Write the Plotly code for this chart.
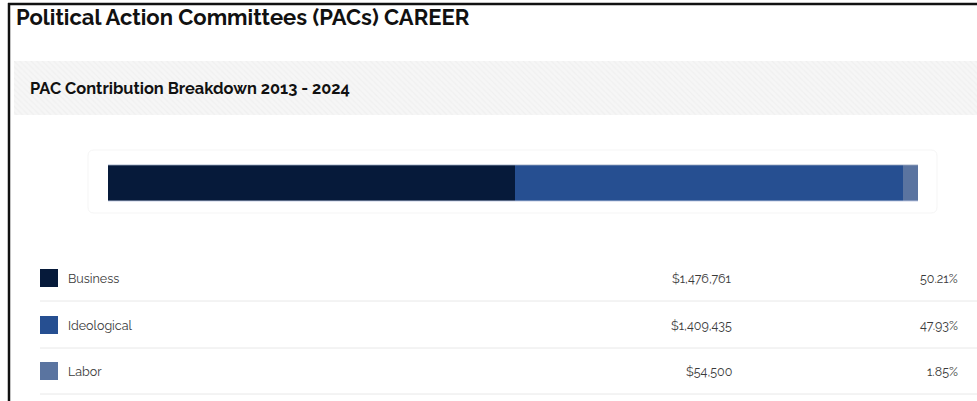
import plotly.graph_objects as go

categories = ["Business", "Ideological", "Labor"]
amounts = [1476761, 1409435, 54500]
amount_labels = ["$1,476,761", "$1,409,435", "$54,500"]
pct_labels = ["50.21%", "47.93%", "1.85%"]
colors = ["#061A3A", "#264F91", "#5A74A0"]

W, H = 977, 401
def px(x):
    return x / W
def py(y):
    return 1 - y / H

fig = go.Figure()
# hatched subtitle band
fig.add_trace(go.Bar(
    x=[1], y=[0], orientation="h", width=1, xaxis="x2", yaxis="y2",
    marker=dict(color="#f4f4f4", line=dict(width=0),
                pattern=dict(shape="\\", fgcolor="#e9e9e9", bgcolor="#f6f6f6", size=4, solidity=0.3)),
    hoverinfo="skip", showlegend=False,
))
for cat, val, col in zip(categories, amounts, colors):
    fig.add_trace(go.Bar(
        x=[val], y=[0], orientation="h", name=cat, width=1,
        marker=dict(color=col, line=dict(width=0)),
        hoverinfo="name+x", showlegend=False,
    ))

total = sum(amounts)
shapes = []
annotations = []

# borders
shapes.append(dict(type="line", xref="paper", yref="paper", x0=px(8), x1=1, y0=py(4), y1=py(4),
                   line=dict(color="#111", width=2.5)))
shapes.append(dict(type="line", xref="paper", yref="paper", x0=px(9), x1=px(9), y0=py(3), y1=0,
                   line=dict(color="#111", width=2.5)))
# faint rounded card around bar
shapes.append(dict(type="path", xref="paper", yref="paper",
                   path=f"M {px(94)},{py(150)} L {px(931)},{py(150)} Q {px(937)},{py(150)} {px(937)},{py(156)} "
                        f"L {px(937)},{py(207)} Q {px(937)},{py(213)} {px(931)},{py(213)} "
                        f"L {px(94)},{py(213)} Q {px(88)},{py(213)} {px(88)},{py(207)} "
                        f"L {px(88)},{py(156)} Q {px(88)},{py(150)} {px(94)},{py(150)} Z",
                   line=dict(color="#f5f5f5", width=1), fillcolor="rgba(0,0,0,0)", layer="below"))
# subtle light edges on bar
shapes.append(dict(type="line", xref="paper", yref="paper", x0=px(108), x1=px(918), y0=py(165), y1=py(165),
                   line=dict(color="rgba(150,165,190,0.8)", width=1)))
shapes.append(dict(type="line", xref="paper", yref="paper", x0=px(108), x1=px(918), y0=py(201), y1=py(201),
                   line=dict(color="rgba(190,200,225,0.9)", width=1)))

row_y = [278, 325, 371]
sep_y = [301, 348, 394]
font_row = dict(family="Raleway, Lato, sans-serif", size=12.5, color="#3a3a3a")
for i, (cat, col) in enumerate(zip(categories, colors)):
    cy = row_y[i]
    shapes.append(dict(type="rect", xref="paper", yref="paper", x0=px(40), x1=px(58),
                       y0=py(cy + 9), y1=py(cy - 9), fillcolor=col, line=dict(width=0)))
    shapes.append(dict(type="line", xref="paper", yref="paper", x0=px(40), x1=1,
                       y0=py(sep_y[i]), y1=py(sep_y[i]), line=dict(color="#e8e8e8", width=1)))
    annotations.append(dict(xref="paper", yref="paper", x=px(66), y=py(cy), text=cat,
                            showarrow=False, xanchor="left", yanchor="middle", font=font_row))
    annotations.append(dict(xref="paper", yref="paper", x=px(734), y=py(cy), text=amount_labels[i],
                            showarrow=False, xanchor="right", yanchor="middle", font=font_row))
    annotations.append(dict(xref="paper", yref="paper", x=px(960), y=py(cy), text=pct_labels[i],
                            showarrow=False, xanchor="right", yanchor="middle", font=font_row))

annotations.append(dict(xref="paper", yref="paper", x=px(14), y=py(17),
                        text="<b>Political Action Committees (PACs) CAREER</b>",
                        showarrow=False, xanchor="left", yanchor="middle",
                        font=dict(family="Raleway, Lato, sans-serif", size=22, color="#111")))
annotations.append(dict(xref="paper", yref="paper", x=px(28), y=py(88),
                        text="<b>PAC Contribution Breakdown 2013 - 2024</b>",
                        showarrow=False, xanchor="left", yanchor="middle",
                        font=dict(family="Raleway, Lato, sans-serif", size=16.4, color="#111")))

fig.update_layout(
    width=W, height=H, margin=dict(l=0, r=0, t=0, b=0),
    paper_bgcolor="white", plot_bgcolor="rgba(0,0,0,0)",
    barmode="stack", bargap=0,
    xaxis=dict(domain=[px(108), px(918)], range=[0, total], visible=False, fixedrange=True),
    yaxis=dict(domain=[py(201), py(165)], range=[-0.5, 0.5], visible=False, fixedrange=True),
    xaxis2=dict(domain=[px(14), 1], range=[0, 1], visible=False, fixedrange=True, anchor="y2"),
    yaxis2=dict(domain=[py(115), py(61)], range=[-0.5, 0.5], visible=False, fixedrange=True, anchor="x2"),
    shapes=shapes, annotations=annotations,
)

fig.write_html("out.html", config={"displayModeBar": False},
               post_script="document.body.style.margin='0';document.body.style.overflow='hidden';")
